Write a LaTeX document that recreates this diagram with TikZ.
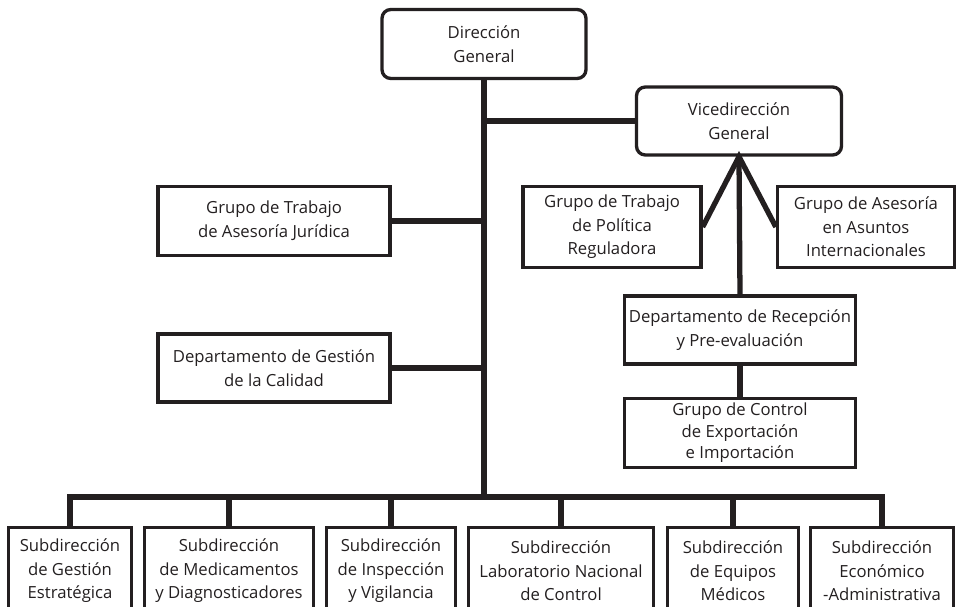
\documentclass[tikz,border=0pt]{standalone}
\usepackage{fontspec}
\setmainfont{Open Sans}
\usetikzlibrary{positioning, calc}

\definecolor{linea}{RGB}{35,31,32}
\tikzset{
  unidad/.style={draw=linea, text=linea, line width=1.9pt, align=center, inner sep=0pt,
    font=\fontsize{9.5}{13.4}\selectfont},
  jefe/.style={unidad, rounded corners=5pt},
  enlace/.style={draw=linea, line width=3pt, line join=miter},
}

\begin{document}
\begin{tikzpicture}[x=0.02cm,y=-0.02cm]
\useasboundingbox (0,0) rectangle (958,607);

% direccion
\node[jefe, minimum width=4.08cm, minimum height=1.38cm] (dg) at (484,44) {Dirección\\General};
\node[jefe, minimum width=4.1cm, minimum height=1.36cm] (vg) at (739,121) {Vicedirección\\General};

% grupos y departamentos
\node[unidad, minimum width=3.56cm, minimum height=1.62cm] (gpr) at (612,227) {Grupo de Trabajo\\de Política\\Reguladora};
\node[unidad, minimum width=3.54cm, minimum height=1.62cm] (gai) at (866,227) {Grupo de Asesoría\\en Asuntos\\Internacionales};
\node[unidad, minimum width=4.62cm, minimum height=1.36cm] (drp) at (740,330) {Departamento de Recepción\\y Pre-evaluación};
\node[unidad, minimum width=4.62cm, minimum height=1.38cm, font=\fontsize{9.5}{12.2}\selectfont] (gce) at (740,433) {Grupo de Control\\de Exportación\\e Importación};
\node[unidad, minimum width=4.64cm, minimum height=1.38cm] (gaj) at (274,221) {Grupo de Trabajo\\de Asesoría Jurídica};
\node[unidad, minimum width=4.64cm, minimum height=1.36cm] (dgc) at (274,368) {Departamento de Gestión\\de la Calidad};

% subdirecciones
\foreach \i\x\w\n in {1/70/2.46/{Subdirección\\de Gestión\\Estratégica},
                      2/229/3.38/{Subdirección\\de Medicamentos\\y Diagnosticadores},
                      3/391/2.58/{Subdirección\\de Inspección\\y Vigilancia},
                      4/561/3.7/{Subdirección\\Laboratorio Nacional\\de Control},
                      5/733/2.62/{Subdirección\\de Equipos\\Médicos},
                      6/882/2.86/{Subdirección\\Económico\\-Administrativa}} {
  \node[unidad, minimum width=\w cm, minimum height=1.74cm] (S\i) at (\x,571) {\n};
}
\coordinate (bus) at (483,497);

\draw[enlace] (dg.south) -- (dg.south |- bus);
\draw[enlace] (dg.south |- vg.west) -- (vg.west);
\draw[enlace] (gaj.east) -- (gaj.east -| dg.south);
\draw[enlace] (dgc.east) -- (dgc.east -| dg.south);
\draw[enlace] (gpr.east) -- (vg.south) -- (gai.west);
\draw[enlace] (vg.south) -- (drp.north);
\draw[enlace] (drp) -- (gce);
\draw[enlace] (S1.north) -- (S1.north |- bus) -- (S6.north |- bus) -- (S6.north);
\foreach \i in {2,3,4,5} {
  \draw[enlace] (S\i.north) -- (S\i.north |- bus);
}
\end{tikzpicture}
\end{document}
